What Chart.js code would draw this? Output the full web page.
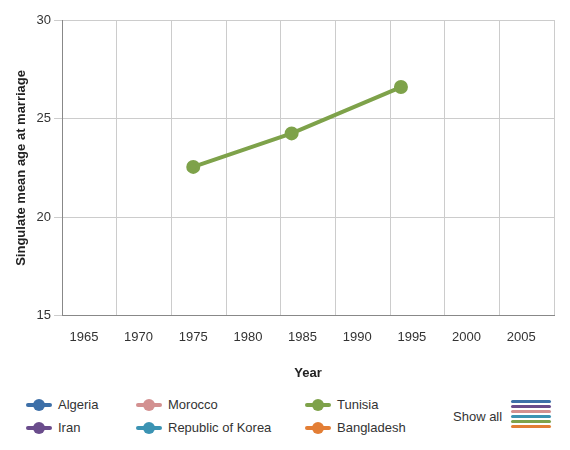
<!DOCTYPE html>
<html><head>
<script src="https://cdn.jsdelivr.net/npm/chart.js@4"></script>
<style>
body{margin:0;font-family:"Liberation Sans",Arial,sans-serif;background:#fff}
#wrap{position:relative;width:570px;height:385px}
#legend{position:absolute;top:393px;left:0;width:570px;height:50px;font-size:13px;color:#333}
.item{position:absolute;display:flex;align-items:center}
.sw{position:relative;width:26px;height:12px;margin-right:6px}
.sw .l{position:absolute;top:4px;left:0;width:26px;height:4px;border-radius:2px}
.sw .d{position:absolute;top:0;left:7px;width:12px;height:12px;border-radius:6px}
</style>
</head><body>
<div id="wrap"><canvas id="c" width="570" height="385"></canvas></div>
<div id="legend"></div>
<script>
const seriesNames = ['Algeria', 'Iran', 'Morocco', 'Republic of Korea', 'Tunisia', 'Bangladesh'];
const seriesColors = ['#3d6fa8', '#6a4c8c', '#d39090', '#3b93b3', '#7ea24a', '#e37e35'];
const tunisiaYears = [1975, 1984, 1994];
const tunisiaValues = [22.55, 24.25, 26.6];
const yearLabels = [1965, 1970, 1975, 1980, 1985, 1990, 1995, 2000, 2005];

const datasets = seriesNames.map((n, i) => ({
  label: n,
  data: n === 'Tunisia' ? tunisiaYears.map((x, k) => ({x, y: tunisiaValues[k]})) : [],
  borderColor: seriesColors[i],
  backgroundColor: seriesColors[i],
  borderWidth: 4,
  pointRadius: 5,
  tension: 0
}));

const font = {size: 13, family: 'Liberation Sans'};
new Chart(document.getElementById('c'), {
  type: 'line',
  data: {datasets},
  options: {
    responsive: false, animation: false, devicePixelRatio: 1,
    layout: {padding: {top: 20, right: 16, left: 10}},
    plugins: {legend: {display: false}, tooltip: {enabled: false}},
    scales: {
      x: {
        type: 'linear', min: 1963, max: 2008,
        afterBuildTicks: s => { s.ticks = [1963,1968,1973,1978,1983,1988,1993,1998,2003,2008].map(v => ({value: v})); },
        ticks: {display: false},
        grid: {color: '#ccc', drawTicks: false},
        border: {color: '#888'}
      },
      x2: {
        type: 'linear', position: 'bottom', min: 1963, max: 2008,
        afterBuildTicks: s => { s.ticks = yearLabels.map(v => ({value: v})); },
        ticks: {color: '#333', font, maxRotation: 0, autoSkip: false, padding: 6, callback: v => String(v)},
        grid: {display: false},
        border: {display: false},
        title: {display: true, text: 'Year', color: '#222', font: {...font, weight: 'bold'}, padding: {top: 14}}
      },
      y: {
        min: 15, max: 30,
        ticks: {stepSize: 5, color: '#333', font},
        grid: {color: '#ccc'},
        border: {color: '#888'},
        title: {display: true, text: 'Singulate mean age at marriage', color: '#222', font: {...font, weight: 'bold'}}
      }
    }
  }
});

const pos = [[26,4],[26,27],[136,4],[136,27],[305,4],[305,27]];
const lg = document.getElementById('legend');
seriesNames.forEach((n, i) => {
  const el = document.createElement('div');
  el.className = 'item';
  el.style.left = pos[i][0] + 'px';
  el.style.top = pos[i][1] + 'px';
  el.innerHTML = `<span class="sw"><span class="l" style="background:${seriesColors[i]}"></span><span class="d" style="background:${seriesColors[i]}"></span></span>${n}`;
  lg.appendChild(el);
});
const sa = document.createElement('div');
sa.className = 'item'; sa.style.left = '453px'; sa.style.top = '16px';
sa.innerHTML = 'Show all';
lg.appendChild(sa);
seriesColors.forEach((col, i) => {
  const b = document.createElement('div');
  b.style.cssText = `position:absolute;left:511px;top:${7 + i*5}px;width:40px;height:3px;border-radius:2px;background:${col}`;
  lg.appendChild(b);
});
</script>
</body></html>
